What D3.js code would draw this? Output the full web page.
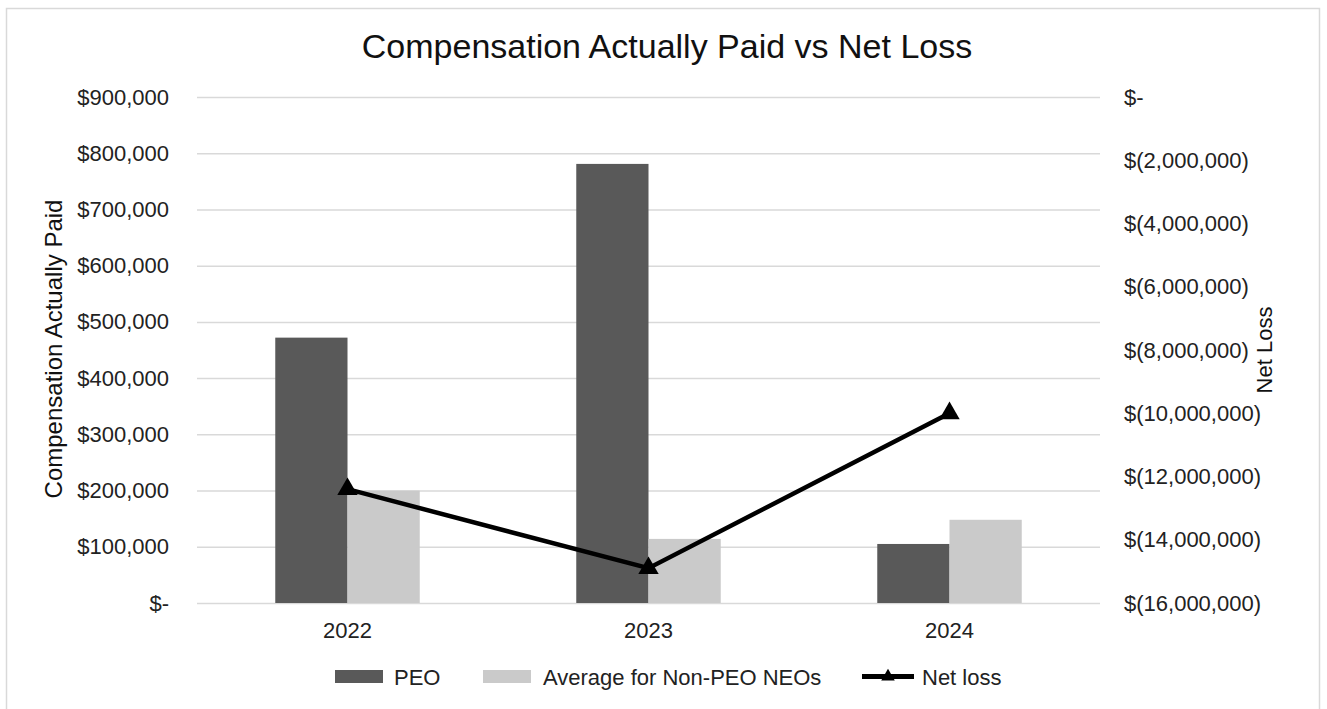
<!DOCTYPE html>
<html>
<head>
<meta charset="utf-8">
<script src="https://cdn.jsdelivr.net/npm/d3@7"></script>
<style>
  body { margin: 0; background: #fff; font-family: "Liberation Sans", Arial, sans-serif; }
  .grid line { stroke: #d9d9d9; stroke-width: 1.5; }
  .tick text { fill: #222; }
</style>
</head>
<body>
<div id="chart"></div>
<script>
// data
var years = ["2022", "2023", "2024"];
var peo = [472000, 781000, 105000];
var nonPeo = [200000, 114000, 148000];
var netLoss = [-12400000, -14900000, -10000000];
var leftTicks = [0, 100000, 200000, 300000, 400000, 500000, 600000, 700000, 800000, 900000];
var rightTicks = [0, -2000000, -4000000, -6000000, -8000000, -10000000, -12000000, -14000000, -16000000];

var svgWidth = 1327;
var svgHeight = 709;

var margin = { top: 97, right: 227, bottom: 106, left: 197 };
var chart_width = svgWidth - margin.left - margin.right;
var chart_height = svgHeight - margin.top - margin.bottom;

var svg = d3.select("#chart")
    .append("svg")
    .attr("width", svgWidth)
    .attr("height", svgHeight);

// outer border
svg.append("rect")
    .attr("x", 6.5).attr("y", 8.5)
    .attr("width", 1313).attr("height", 720)
    .attr("fill", "none")
    .attr("stroke", "#d9d9d9")
    .attr("stroke-width", 1.5);

var chart = svg.append("g")
    .attr("transform", `translate(${margin.left}, ${margin.top})`);

// scales
var xScale = d3.scaleBand()
    .domain(years)
    .range([0, chart_width]);

var xInner = d3.scaleBand()
    .domain(["peo", "nonPeo"])
    .range([xScale.bandwidth() * 0.26, xScale.bandwidth() * 0.74]);

var yLeft = d3.scaleLinear()
    .domain([0, 900000])
    .range([chart_height, 0]);

var yRight = d3.scaleLinear()
    .domain([-16000000, 0])
    .range([chart_height, 0]);

// gridlines
chart.append("g")
    .attr("class", "grid")
    .call(d3.axisLeft(yLeft).tickValues(leftTicks).tickSize(-chart_width).tickFormat(""))
    .call(g => g.select(".domain").remove());

// left axis
var fmtLeft = d => d === 0 ? "$-" : "$" + d3.format(",")(d);
chart.append("g")
    .call(d3.axisLeft(yLeft).tickValues(leftTicks).tickSize(0).tickPadding(28).tickFormat(fmtLeft))
    .call(g => g.select(".domain").remove())
    .selectAll("text")
    .attr("font-size", 22)
    .attr("font-family", "Liberation Sans, Arial, sans-serif");

// right axis
var fmtRight = d => d === 0 ? "$-" : "$(" + d3.format(",")(-d) + ")";
chart.append("g")
    .attr("transform", `translate(${chart_width}, 0)`)
    .call(d3.axisRight(yRight).tickValues(rightTicks).tickSize(0).tickPadding(24).tickFormat(fmtRight))
    .call(g => g.select(".domain").remove())
    .selectAll("text")
    .attr("font-size", 22)
    .attr("font-family", "Liberation Sans, Arial, sans-serif");

// bottom axis
chart.append("g")
    .attr("transform", `translate(0, ${chart_height})`)
    .call(d3.axisBottom(xScale).tickSize(0).tickPadding(19))
    .call(g => g.select(".domain").remove())
    .selectAll("text")
    .attr("font-size", 22)
    .attr("font-family", "Liberation Sans, Arial, sans-serif");

// bars
var rows = years.map((y, i) => ({ year: y, peo: peo[i], nonPeo: nonPeo[i], loss: netLoss[i] }));
var colors = { peo: "#595959", nonPeo: "#cacaca" };

chart.append("g")
    .selectAll("g")
    .data(rows)
    .enter()
    .append("g")
    .attr("transform", d => `translate(${xScale(d.year)}, 0)`)
    .selectAll("rect")
    .data(d => ["peo", "nonPeo"].map(k => ({ key: k, value: d[k] })))
    .enter()
    .append("rect")
    .attr("x", d => xInner(d.key))
    .attr("width", xInner.bandwidth())
    .attr("y", d => yLeft(d.value))
    .attr("height", d => chart_height - yLeft(d.value))
    .attr("fill", d => colors[d.key]);

// net loss line
var line = d3.line()
    .x(d => xScale(d.year) + xScale.bandwidth() / 2)
    .y(d => yRight(d.loss));

chart.append("path")
    .datum(rows)
    .attr("d", line)
    .attr("fill", "none")
    .attr("stroke", "#000")
    .attr("stroke-width", 4.5);

var tri = d3.symbol().type(d3.symbolTriangle).size(180);
chart.append("g")
    .selectAll("path")
    .data(rows)
    .enter()
    .append("path")
    .attr("d", tri)
    .attr("transform", d => `translate(${xScale(d.year) + xScale.bandwidth() / 2}, ${yRight(d.loss)})`)
    .attr("fill", "#000");

// title
svg.append("text")
    .attr("x", 667)
    .attr("y", 58)
    .attr("text-anchor", "middle")
    .attr("font-size", 34)
    .attr("fill", "#111")
    .text("Compensation Actually Paid vs Net Loss");

// axis titles
svg.append("text")
    .attr("transform", "translate(62, 349) rotate(-90)")
    .attr("text-anchor", "middle")
    .attr("font-size", 24)
    .attr("fill", "#111")
    .text("Compensation Actually Paid");

svg.append("text")
    .attr("transform", "translate(1272, 350) rotate(-90)")
    .attr("text-anchor", "middle")
    .attr("font-size", 22)
    .attr("fill", "#111")
    .text("Net Loss");

// legend
var legend = svg.append("g").attr("transform", "translate(0, 676.5)");
legend.append("rect").attr("x", 335).attr("y", -6.5).attr("width", 48).attr("height", 13).attr("fill", colors.peo);
legend.append("text").attr("x", 394).attr("y", 8).attr("font-size", 22).attr("fill", "#222").text("PEO");
legend.append("rect").attr("x", 483).attr("y", -6.5).attr("width", 48).attr("height", 13).attr("fill", colors.nonPeo);
legend.append("text").attr("x", 543).attr("y", 8).attr("font-size", 22).attr("fill", "#222").text("Average for Non-PEO NEOs");
legend.append("line").attr("x1", 862).attr("x2", 914).attr("y1", 0).attr("y2", 0).attr("stroke", "#000").attr("stroke-width", 5);
legend.append("path").attr("d", d3.symbol().type(d3.symbolTriangle).size(80)).attr("transform", "translate(888, 0)").attr("fill", "#000");
legend.append("text").attr("x", 922).attr("y", 8).attr("font-size", 22).attr("fill", "#222").text("Net loss");
</script>
</body>
</html>
